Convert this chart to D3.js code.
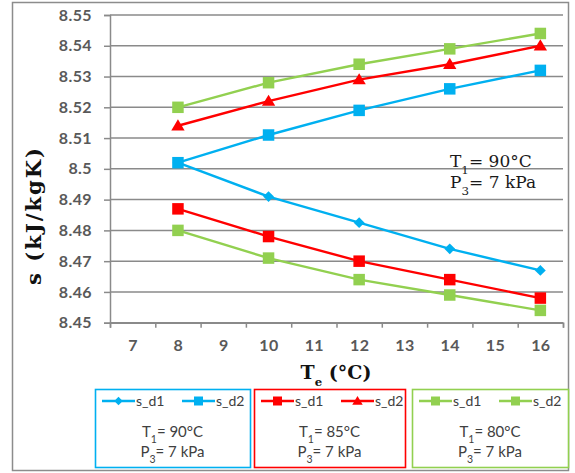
<!DOCTYPE html>
<html>
<head>
<meta charset="utf-8">
<script src="https://cdn.jsdelivr.net/npm/d3@7"></script>
<style>
  html, body { margin: 0; padding: 0; background: #fff; }
  svg { display: block; }
</style>
</head>
<body>
<svg id="chart" width="575" height="473"></svg>
<script>
// Evaporator temperature (°C) at each operating point
const te = [8, 10, 12, 14, 16];
// Category labels shown on the horizontal axis
const xLabels = [7, 8, 9, 10, 11, 12, 13, 14, 15, 16];
// Entropy tick labels (kJ/kgK)
const yTicks = [8.45, 8.46, 8.47, 8.48, 8.49, 8.5, 8.51, 8.52, 8.53, 8.54, 8.55];

// T1 = 90 °C
const sd1_90 = [8.502, 8.491, 8.4825, 8.474, 8.467];
const sd2_90 = [8.502, 8.511, 8.519, 8.526, 8.532];
// T1 = 85 °C
const sd1_85 = [8.487, 8.478, 8.470, 8.464, 8.458];
const sd2_85 = [8.514, 8.522, 8.529, 8.534, 8.540];
// T1 = 80 °C
const sd1_80 = [8.480, 8.471, 8.464, 8.459, 8.454];
const sd2_80 = [8.520, 8.528, 8.534, 8.539, 8.544];

const groups = [
  { t1: "90", color: "#00B0F0", series: [
      { name: "s_d1", values: sd1_90, marker: "diamond" },
      { name: "s_d2", values: sd2_90, marker: "square" } ] },
  { t1: "85", color: "#FF0000", series: [
      { name: "s_d1", values: sd1_85, marker: "square" },
      { name: "s_d2", values: sd2_85, marker: "triangle" } ] },
  { t1: "80", color: "#92D050", series: [
      { name: "s_d1", values: sd1_80, marker: "square" },
      { name: "s_d2", values: sd2_80, marker: "square" } ] }
];

const svg = d3.select("#chart");

// outer chart frame
svg.append("rect")
  .attr("x", 12.5).attr("y", 2.5).attr("width", 556).attr("height", 468)
  .attr("fill", "#fff").attr("stroke", "#8c8c8c").attr("stroke-width", 1.5);

const x = d3.scaleLinear().domain([6.5, 16.5]).range([110, 563]);
const y = d3.scaleLinear().domain([8.45, 8.55]).range([322.7, 15]);

const gridColor = "#8a8a8a";
const tickFont = "Lato, 'Open Sans', sans-serif";
const serif = "'DejaVu Serif', 'Liberation Serif', serif";

// horizontal gridlines
svg.append("g").selectAll("line").data(yTicks).join("line")
  .attr("x1", x(6.5)).attr("x2", x(16.5))
  .attr("y1", d => y(d)).attr("y2", d => y(d))
  .attr("stroke", gridColor).attr("stroke-width", 1.5);

// vertical axis with outward ticks
const yAxis = svg.append("g").attr("transform", `translate(${x(6.5)},0)`)
  .call(d3.axisLeft(y).tickValues(yTicks).tickSize(6).tickPadding(12)
    .tickFormat(d => d3.format(".2f")(d).replace(/0$/, "")));
yAxis.select(".domain").attr("stroke", gridColor).attr("stroke-width", 1.5);
yAxis.selectAll(".tick line").attr("stroke", gridColor).attr("stroke-width", 1.5);
yAxis.selectAll(".tick text")
  .attr("font-family", tickFont).attr("font-size", 16).attr("font-weight", "bold")
  .attr("letter-spacing", 0.4).attr("fill", "#595959");

// horizontal axis: tick marks at category boundaries
const boundaries = d3.range(6.5, 16.6, 1);
const xAxis = svg.append("g").attr("transform", `translate(0,${y(8.45)})`)
  .call(d3.axisBottom(x).tickValues(boundaries).tickSize(5).tickFormat(""));
xAxis.select(".domain").attr("stroke", gridColor).attr("stroke-width", 1.5);
xAxis.selectAll(".tick line").attr("stroke", gridColor).attr("stroke-width", 1.5);

// category labels centred in each band
const xLab = svg.append("g").attr("transform", `translate(0,${y(8.45)})`)
  .call(d3.axisBottom(x).tickValues(xLabels).tickSize(0).tickPadding(17).tickFormat(d3.format("d")));
xLab.select(".domain").remove();
xLab.selectAll(".tick text")
  .attr("font-family", tickFont).attr("font-size", 16).attr("font-weight", "bold")
  .attr("letter-spacing", 0.4).attr("fill", "#595959");

// marker shapes
function markerPath(kind, size) {
  const s = size;
  if (kind === "square") return `M${-s/2},${-s/2}h${s}v${s}h${-s}Z`;
  if (kind === "diamond") { const r = s * 0.6; return `M0,${-r}L${r},0L0,${r}L${-r},0Z`; }
  if (kind === "triangle") { const h = s * 0.9; return `M0,${-h*0.62}L${s*0.58},${h*0.45}L${-s*0.58},${h*0.45}Z`; }
  return "";
}

const line = d3.line().x((d, i) => x(te[i])).y(d => y(d));

// series lines and markers
groups.forEach(g => {
  g.series.forEach(s => {
    svg.append("path").datum(s.values)
      .attr("d", line).attr("fill", "none")
      .attr("stroke", g.color).attr("stroke-width", 2.4);
    svg.append("g").selectAll("path").data(s.values).join("path")
      .attr("transform", (d, i) => `translate(${x(te[i])},${y(d)})`)
      .attr("d", markerPath(s.marker, s.marker === "diamond" ? 9 : 11.5))
      .attr("fill", g.color);
  });
});

// condition labels with subscripts
function conditionText(sel, t1) {
  sel.append("tspan").text("T");
  sel.append("tspan").attr("baseline-shift", "sub").attr("font-size", "70%").text("1");
  sel.append("tspan").text(`= ${t1}°C`);
}
function pressureText(sel) {
  sel.append("tspan").text("P");
  sel.append("tspan").attr("baseline-shift", "sub").attr("font-size", "70%").text("3");
  sel.append("tspan").text("= 7 kPa");
}
const note = svg.append("g").attr("font-family", serif)
  .attr("font-size", 17).attr("fill", "#1a1a1a");
note.append("text").attr("x", 450).attr("y", 167).call(conditionText, "90");
note.append("text").attr("x", 450).attr("y", 188).call(pressureText);

// axis titles
svg.append("text")
  .attr("transform", `translate(41,216.5) rotate(-90)`)
  .attr("text-anchor", "middle")
  .attr("font-family", serif).attr("font-size", 21).attr("font-weight", "bold")
  .attr("textLength", 137).attr("lengthAdjust", "spacing")
  .attr("fill", "#111").text("s (kJ/kgK)");

const xt = svg.append("text").attr("x", 336).attr("y", 379)
  .attr("text-anchor", "middle")
  .attr("font-family", serif).attr("font-size", 19).attr("font-weight", "bold")
  .attr("fill", "#111");
xt.append("tspan").text("T");
xt.append("tspan").attr("baseline-shift", "sub").attr("font-size", "62%").text("e");
xt.append("tspan").text(" (°C)");

// legend boxes, one per T1 group
const boxes = [
  { x: 95, w: 155 },
  { x: 254, w: 151 },
  { x: 412, w: 156 }
];
groups.forEach((g, gi) => {
  const b = boxes[gi];
  const lg = svg.append("g").attr("transform", `translate(${b.x},389)`);
  lg.append("rect").attr("x", 0.5).attr("y", 0.5)
    .attr("width", b.w).attr("height", 78)
    .attr("fill", "#fff").attr("stroke", g.color).attr("stroke-width", 1.6);
  g.series.forEach((s, si) => {
    const ox = 7 + si * 80;
    const e = lg.append("g").attr("transform", `translate(${ox},12)`);
    e.append("line").attr("x1", 0).attr("x2", 33).attr("y1", 0).attr("y2", 0)
      .attr("stroke", g.color).attr("stroke-width", 2.4);
    e.append("path").attr("transform", "translate(16.5,0)")
      .attr("d", markerPath(s.marker, s.marker === "diamond" ? 7 : 9))
      .attr("fill", g.color);
    e.append("text").attr("x", 34).attr("y", 5)
      .attr("font-family", tickFont).attr("font-size", 14).attr("fill", "#404040")
      .text(s.name);
  });
  const tg = lg.append("g").attr("font-family", tickFont).attr("font-size", 15)
    .attr("fill", "#404040").attr("text-anchor", "middle");
  tg.append("text").attr("x", b.w / 2).attr("y", 48).call(conditionText, g.t1);
  tg.append("text").attr("x", b.w / 2).attr("y", 68).call(pressureText);
});
</script>
</body>
</html>
